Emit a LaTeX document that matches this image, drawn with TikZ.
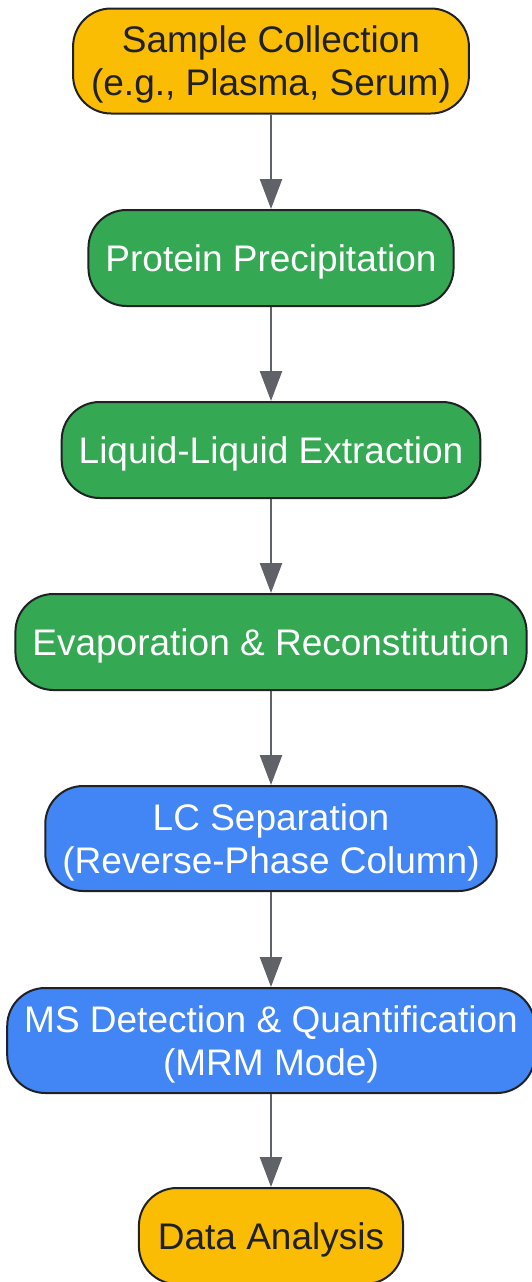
\documentclass[tikz,border=0pt]{standalone}
\usepackage{fontspec}
\setmainfont{Liberation Sans}
\usepackage{tikz}
\usetikzlibrary{arrows.meta}
\definecolor{gyellow}{HTML}{FBBC04}
\definecolor{ggreen}{HTML}{34A853}
\definecolor{gblue}{HTML}{4285F4}
\definecolor{gdark}{HTML}{202124}
\definecolor{ggray}{HTML}{5F6368}

\begin{document}
\begin{tikzpicture}[x=1pt, y=-1pt,
  main/.style = {draw=gdark, line width=2pt, rounded corners=38pt, align=center,
    font=\fontsize{37}{43}\selectfont, inner xsep=17pt, inner ysep=4pt, text depth=0pt,
    minimum height=96pt},
  twoline/.style = {minimum height=105pt},
  endpoint/.style = {main, fill=gyellow, text=gdark},
  prep/.style = {main, fill=ggreen, text=white},
  instr/.style = {main, fill=gblue, text=white},
  flow/.style = {draw=ggray, line width=2.5pt, -{Triangle[length=30pt, width=22pt]}}]
  \useasboundingbox (0, 0) rectangle (532, 1282);
  %start
  \node[endpoint, twoline, inner xsep=18pt] (sample) at (271, 61) {Sample Collection\\(e.g., Plasma, Serum)};
  %sample prep
  \node[prep] (precip) at (271, 258) {Protein Precipitation};
  \node[prep] (lle) at (271, 450) {Liquid-Liquid Extraction};
  \node[prep] (evap) at (271, 642) {Evaporation \& Reconstitution};
  %instrument
  \node[instr, twoline] (lc) at (271, 838.5) {LC Separation\\(Reverse-Phase Column)};
  \node[instr, twoline] (ms) at (271, 1040.5) {MS Detection \& Quantification\\(MRM Mode)};
  %end
  \node[endpoint, inner xsep=19pt] (data) at (271, 1236) {Data Analysis};
  %linking
  \draw[flow] (sample) -- (precip);
  \draw[flow] (precip) -- (lle);
  \draw[flow] (lle) -- (evap);
  \draw[flow] (evap) -- (lc);
  \draw[flow] (lc) -- (ms);
  \draw[flow] (ms) -- (data);
\end{tikzpicture}
\end{document}
